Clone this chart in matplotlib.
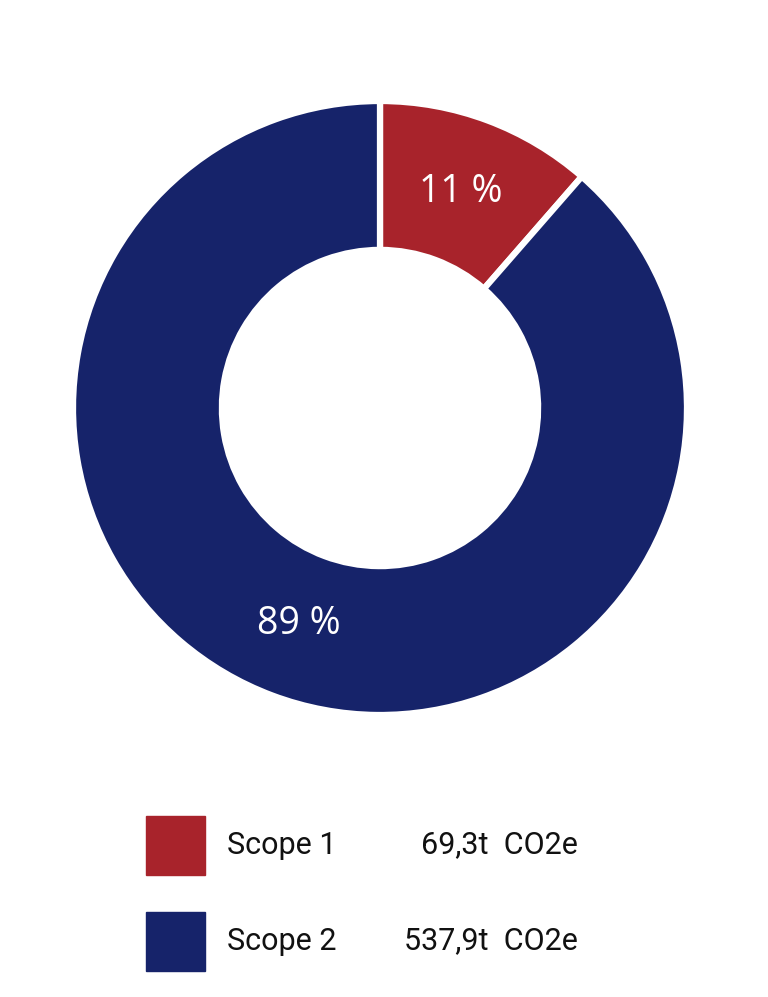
import matplotlib.pyplot as plt
from matplotlib.patches import Rectangle

# data
scopes = ['Scope 1', 'Scope 2']
emissions = [69.3, 537.9]  # t CO2e
colors = ['#A8232B', '#16236A']

W, H = 768, 997
fig = plt.figure(figsize=(W / 100, H / 100), dpi=100)

# donut
cx, cy, r = 380, 408, 307
ax = fig.add_axes([(cx - r) / W, 1 - (cy + r) / H, 2 * r / W, 2 * r / H])
wedges, _, autotexts = ax.pie(
    emissions, colors=colors, startangle=90, counterclock=False,
    radius=1.0, autopct=lambda p: f'{p:.0f} %', pctdistance=0.75,
    wedgeprops=dict(width=0.485, edgecolor='white', linewidth=4.5),
)
for t in autotexts:
    t.set_color('white')
    t.set_fontsize(27)
    t.set_fontfamily('Open Sans')
ax.set_xlim(-1, 1)
ax.set_ylim(-1, 1)
ax.set_aspect('equal')
ax.axis('off')

# legend, drawn by hand in pixel coordinates
lax = fig.add_axes([0, 0, 1, 1])
lax.set_xlim(0, W)
lax.set_ylim(H, 0)
lax.axis('off')
row_y = [845, 941]
for name, val, col, y in zip(scopes, emissions, colors, row_y):
    lax.add_patch(Rectangle((146, y - 29.5), 59, 59, color=col))
    lax.text(227, y, name, fontsize=22, family='Roboto',
             va='center', ha='left', color='#111111')
    lax.text(578, y, f'{val:.1f}'.replace('.', ',') + 't  CO2e', fontsize=22,
             family='Roboto', va='center', ha='right', color='#111111')

fig.savefig('out.png', dpi=100)
